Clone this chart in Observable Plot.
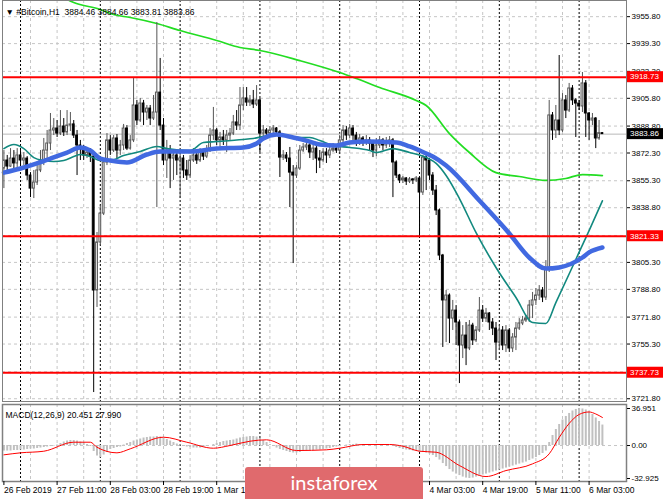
<!DOCTYPE html>
<html><head><meta charset="utf-8">
<script src="https://cdn.jsdelivr.net/npm/d3@7"></script>
<script src="https://cdn.jsdelivr.net/npm/@observablehq/plot@0.6"></script>
<style>
html,body{margin:0;padding:0;background:#fff;}
#wrap{position:relative;width:665px;height:499px;overflow:hidden;background:#fff;}
#wrap svg{display:block;}
#logo{position:absolute;left:245px;top:467px;width:178px;height:40px;background:#e06a6d;border-radius:3px;color:#fff;font-family:Lato,"Open Sans",sans-serif;font-size:20px;line-height:20px;text-align:center;padding-top:5px;box-sizing:border-box;}
</style></head>
<body><div id="wrap"></div>
<script>
const FONT = "'Liberation Sans', Arial, sans-serif";
const header = "▼ #Bitcoin,H1  3884.46 3884.66 3883.81 3883.86";
const macdHeader = "MACD(12,26,9) 20.451 27.990";

// hourly bars, bar 0 = 26 Feb 19:00 ... bar 180 = 6 Mar 07:00
const open0 = 3862.8;
const closeP = [
3867.7,3864.0,3868.9,3865.9,3870.8,3867.7,3868.9,3858.5,3850.5,3854.2,
3861.6,3867.7,3873.8,3878.1,3886.1,3887.3,3884.2,3888.5,3884.9,3889.1,
3889.8,3883.0,3876.9,3875.0,3870.8,3872.6,3870.1,3788.1,3817.5,3835.2,
3866.5,3880.0,3873.8,3881.2,3873.8,3876.9,3887.3,3875.0,3880.0,3901.4,
3892.2,3902.6,3897.1,3899.5,3893.4,3897.1,3909.3,3889.1,3867.7,3873.8,
3868.9,3870.8,3867.7,3868.9,3861.6,3858.5,3867.7,3870.8,3867.7,3872.6,
3870.1,3873.8,3883.0,3886.1,3880.0,3881.8,3880.0,3883.0,3884.2,3891.0,
3889.1,3901.4,3905.7,3903.2,3904.5,3902.0,3904.5,3884.2,3886.1,3884.2,
3886.1,3887.3,3884.9,3869.5,3870.8,3868.9,3860.3,3858.5,3862.8,3873.8,
3875.7,3876.9,3872.6,3875.0,3868.9,3867.7,3872.6,3870.8,3873.8,3875.0,
3873.8,3880.0,3886.1,3883.0,3887.3,3883.0,3878.7,3881.2,3878.7,3880.0,
3878.1,3873.8,3876.9,3880.0,3876.9,3878.7,3880.0,3866.5,3858.5,3855.5,
3856.7,3854.8,3856.1,3855.5,3856.7,3848.1,3869.5,3867.7,3858.5,3849.3,
3837.1,3809.5,3782.0,3785.0,3770.9,3775.8,3768.5,3754.4,3760.5,3752.6,
3766.6,3757.5,3763.6,3775.8,3770.9,3774.0,3768.5,3764.8,3756.2,3763.6,
3754.4,3763.6,3752.6,3759.3,3764.8,3767.9,3769.7,3770.9,3778.9,3782.0,
3785.0,3788.1,3783.8,3801.5,3895.3,3886.1,3892.2,3886.1,3904.5,3898.3,
3911.8,3904.5,3902.6,3900.8,3914.9,3896.5,3892.2,3893.4,3881.2,3884.46,3883.86];
const highP = [
3873.8,3870.8,3875.0,3873.8,3875.0,3873.8,3872.6,3870.1,3860.3,3861.6,
3864.6,3873.8,3881.2,3886.1,3896.5,3893.4,3892.2,3898.3,3893.4,3898.3,
3897.1,3892.2,3886.1,3880.0,3876.9,3875.7,3875.0,3871.5,3823.6,3840.1,
3868.9,3884.2,3883.0,3883.0,3883.6,3880.0,3889.8,3889.1,3883.0,3917.9,
3904.5,3905.7,3904.5,3901.4,3901.4,3907.5,3952.2,3930.2,3893.4,3880.0,
3876.9,3873.8,3872.6,3873.8,3870.8,3867.7,3870.8,3875.0,3873.8,3875.0,
3873.8,3876.9,3887.3,3900.2,3887.3,3884.9,3886.1,3886.1,3887.3,3895.3,
3898.3,3912.4,3912.4,3912.4,3907.5,3910.6,3913.6,3905.7,3889.1,3887.3,
3888.5,3889.1,3887.9,3886.1,3873.8,3872.6,3875.7,3864.6,3864.6,3876.9,
3878.1,3880.0,3878.1,3876.9,3876.3,3873.8,3875.0,3875.0,3876.9,3878.1,
3876.9,3883.0,3889.1,3888.5,3889.8,3889.1,3884.9,3883.6,3882.4,3883.0,
3881.8,3880.0,3881.2,3882.4,3881.2,3881.8,3882.4,3881.2,3867.5,3859.2,
3857.9,3857.3,3857.3,3856.7,3857.9,3857.5,3870.8,3870.8,3868.9,3860.3,
3852.4,3838.0,3810.2,3788.1,3786.0,3782.0,3778.9,3770.0,3766.6,3768.5,
3769.7,3768.0,3766.0,3783.8,3778.9,3777.1,3774.6,3770.9,3768.5,3766.6,
3766.0,3766.6,3764.8,3761.7,3768.5,3770.9,3772.2,3772.8,3782.0,3786.9,
3789.3,3791.1,3789.9,3806.4,3904.5,3897.1,3901.4,3932.0,3908.7,3907.5,
3914.9,3913.6,3905.7,3904.5,3921.6,3916.7,3897.1,3896.5,3894.0,3892.2,3884.66];
const lowP = [
3850.5,3860.3,3863.5,3861.6,3862.8,3864.6,3864.6,3855.5,3845.0,3844.4,
3852.4,3860.3,3864.6,3867.7,3873.8,3883.0,3881.8,3883.0,3882.4,3883.0,
3885.5,3881.2,3858.5,3867.7,3867.7,3868.9,3866.5,3725.6,3777.7,3815.6,
3834.0,3864.6,3870.8,3872.6,3868.9,3870.8,3873.8,3873.8,3874.0,3878.7,
3889.1,3891.0,3889.1,3892.2,3889.1,3892.2,3838.9,3886.1,3864.6,3856.7,
3850.5,3855.5,3858.5,3844.4,3856.7,3855.5,3856.7,3866.5,3865.3,3866.5,
3867.7,3868.9,3872.6,3880.0,3876.9,3873.8,3876.9,3872.6,3880.0,3883.0,
3886.1,3886.1,3898.3,3900.8,3900.8,3899.5,3900.8,3872.6,3880.0,3881.8,
3883.0,3883.6,3882.4,3857.3,3867.7,3866.5,3838.9,3804.6,3856.7,3861.6,
3872.6,3873.8,3868.9,3867.7,3859.7,3862.8,3866.5,3865.9,3868.9,3872.6,
3872.0,3872.6,3876.9,3880.0,3881.2,3880.0,3876.3,3876.9,3876.3,3876.9,
3873.8,3869.5,3870.1,3875.0,3873.8,3875.0,3875.7,3845.0,3856.7,3853.6,
3853.6,3852.4,3853.6,3853.0,3854.2,3820.5,3846.3,3849.3,3855.5,3846.3,
3834.0,3806.4,3753.2,3756.2,3755.6,3763.6,3754.4,3731.1,3746.4,3742.1,
3751.3,3754.4,3756.2,3762.4,3768.5,3768.5,3763.6,3760.5,3745.2,3751.3,
3751.3,3750.1,3750.1,3750.1,3751.3,3763.6,3766.6,3768.5,3768.5,3770.9,
3778.9,3782.0,3780.7,3782.0,3799.1,3880.0,3881.2,3883.0,3884.9,3893.4,
3897.1,3901.4,3881.8,3898.3,3897.1,3881.8,3880.0,3889.1,3875.0,3880.0,3883.81];

// moving averages (bar index, price)
const greenIdx = [17,21,29,33,38,46,53,64,71,77,89,101,106,113,124,127,134,140,148,155,163,169,174,180];
const greenVal = [3968.5,3964.5,3960.2,3957.1,3955.3,3951.6,3947.3,3941.2,3936.9,3935.1,3928.9,3921.6,3917.9,3912.4,3904.5,3901.4,3884.2,3872.6,3860.3,3857.9,3855.5,3856.7,3859.1,3858.5];
const tealIdx = [0,3,6,9,12,15,18,21,23,26,29,32,36,41,46,49,56,60,64,72,75,82,89,92,95,99,104,110,112,117,122,127,130,133,137,142,148,154,159,163,166,172,176,180];
const tealVal = [3875.0,3877.5,3875.0,3869.5,3867.7,3867.1,3867.7,3870.1,3871.4,3870.1,3867.7,3867.7,3870.8,3873.2,3876.3,3875.0,3873.8,3878.7,3879.3,3880.6,3881.2,3883.6,3881.8,3881.8,3880.0,3876.9,3875.7,3873.8,3872.6,3875.0,3872.6,3869.5,3865.9,3858.5,3844.4,3823.5,3802.2,3783.8,3768.5,3767.9,3780.7,3807.1,3824.8,3843.0];
const blueIdx = [0,5,9,14,19,23,26,29,32,37,43,47,56,64,72,76,78,82,87,92,95,100,104,109,118,122,127,129,133,143,152,158,163,167,174,176,180];
const blueVal = [3860.3,3862.8,3865.3,3868.9,3872.6,3875.7,3873.8,3868.9,3867.7,3866.5,3871.4,3873.2,3873.2,3875.0,3875.7,3878.1,3881.2,3883.6,3881.8,3879.3,3877.5,3876.9,3878.7,3879.3,3878.7,3876.3,3872.0,3870.1,3864.6,3843.2,3823.0,3808.3,3801.5,3802.2,3808.3,3811.4,3814.4];

const levels = [3918.73, 3821.33, 3737.73];
const bid = 3883.86;
const priceTicks = [3955.8,3939.3,3922.3,3905.8,3888.8,3872.3,3855.3,3838.8,3821.8,3805.3,3788.8,3771.8,3755.3,3738.3,3721.8];
const gridBars = [8,16,24,32,40,48,56,64,72,80,88,96,104,112,120,128,136,144,152,160,168,176];
const daySeps = [5,29,53,77,101,125,149,173];
const timeBars = [0,16,32,48,64,80,96,112,128,144,160,176];
const timeLabels = ["26 Feb 2019","27 Feb 11:00","28 Feb 03:00","28 Feb 19:00","1 Mar 11:00","2 Mar 03:00","2 Mar 19:00","3 Mar 11:00","4 Mar 03:00","4 Mar 19:00","5 Mar 11:00","6 Mar 03:00"];

// MACD(12,26,9) main values (histogram) per bar and signal line samples
const macdHist = [
-5.5,-5.5,-5.5,-5,-5,-4.5,
-4.5,-4,-3.5,-3.5,-3,
-2.5,-2,-1.5,-1,-0.5,
0.5,2,3.5,4.5,5,5,4.5,3.5,2.5,1,-1,
-6,-10.5,-12,-9.5,-7,-4,-3,-2,-1.5,
0.5,2,3,4.5,5.5,6.5,7.5,8,8.5,8.5,9,8.5,7.5,6,4.5,3,1.5,0.5,
-0.5,-1.5,-2,-2.5,-2.5,-2.5,-2,-1,0,1,
2,3,4,4.5,5,5.5,6.5,7.5,8,8.5,9,9,8.5,7,5,3,1,
-1,-2.5,-4,-5,-6,-7,-7.5,-7.5,-7,-6,-5.5,-5,-5,-4.5,-4.5,-4,-3.5,-3,-2,-1.5,-1,
0,0.5,1,1,1.5,1,1,0.5,0.5,0,0,0,0.5,0.5,0,-1,-2,-3,-4,-4.5,-5,-5.5,-6,-6.5,
-7,-7.5,-8.5,-10,-12,-14.5,-18,-21,-24,-26.5,-28.5,-30,-31.5,-32.5,-32.9,
-32.5,-31.5,-30.5,-29.5,-28.5,-27.5,-26.5,-25.5,-24.5,-23.5,-22.5,-21.5,-20.5,-19.5,-18.5,
-17.5,-16.5,-15,-13.5,-12,-10,-8,-5.5,3,10,16,21,25.5,29,32,34.5,36,36.95,36.5,35.5,
33.5,31,27.5,24,20.45];
const sigIdx = [0,5,12,21,26,28,34,38,48,55,63,68,74,79,88,97,101,108,116,120,125,130,137,145,151,159,164,167,170,173,176,178,180];
const sigVal = [-9.3,-7.3,-5.7,3.3,3.3,-1.7,-7.3,-3.3,8.3,3.3,-2.7,0,4.3,5.7,-5,-4.3,-2.7,1,1,-0.7,-5.7,-6.7,-20,-31,-25,-18.3,-8.3,8,22,31,33.5,31.5,27.99];
const macdTicks = [36.951, 0, -32.925];
const macdTickText = ["36.951", "0.00", "-32.925"];

// tables for the marks
const candles = closeP.map((c, i) => ({i, open: i ? closeP[i - 1] : open0, high: highP[i], low: lowP[i], close: c}));
const pts = (idx, val) => idx.map((i, k) => ({i, v: val[k]}));
const green = pts(greenIdx, greenVal), teal = pts(tealIdx, tealVal), blue = pts(blueIdx, blueVal);
const hist = macdHist.map((v, i) => ({i, v}));
const signal = pts(sigIdx, sigVal);
const bull = d => d.close >= d.open;

const xScale = {domain: [0, 180], range: [3.4, 601.9], axis: null};
const style = {fontFamily: FONT, fontSize: "8px", background: "#fff", color: "#000", overflow: "visible"};

const main = Plot.plot({
  width: 665, height: 402,
  marginLeft: 2, marginRight: 39, marginTop: 0, marginBottom: 1,
  style,
  x: xScale,
  y: {domain: [3719.5, 3965.7], range: [402, 0], axis: null},
  marks: [
    Plot.ruleY(priceTicks, {stroke: "#c6c6c6", strokeDasharray: "3,3"}),
    Plot.ruleX(gridBars, {stroke: "#c6c6c6", strokeDasharray: "3,3"}),
    Plot.ruleX(daySeps, {stroke: "#000", strokeDasharray: "2,2", strokeWidth: 1}),
    Plot.ruleY([bid], {stroke: "#b8b8b8"}),
    Plot.line(green, {x: "i", y: "v", stroke: "#22dd22", strokeWidth: 1.7, curve: "monotone-x", clip: true}),
    Plot.ruleX(candles, {x: "i", y1: "low", y2: "high", stroke: d => bull(d) ? "#555" : "#000", strokeWidth: 1}),
    Plot.rect(candles, {x1: d => d.i - 0.27, x2: d => d.i + 0.27, y1: "open", y2: "close",
      fill: d => bull(d) ? "#fff" : "#000", stroke: d => bull(d) ? "#555" : "#000", strokeWidth: 1}),
    Plot.line(teal, {x: "i", y: "v", stroke: "#12897f", strokeWidth: 1.6, curve: "monotone-x"}),
    Plot.line(blue, {x: "i", y: "v", stroke: "#4169e1", strokeWidth: 4.5, curve: "monotone-x", strokeLinecap: "round", strokeLinejoin: "round"}),
    Plot.ruleY(levels, {stroke: "#ff0000", strokeWidth: 2}),
    Plot.frame({stroke: "#808080"}),
    Plot.axisY(priceTicks, {anchor: "right", tickSize: 3, tickPadding: 2, tickFormat: d => d.toFixed(2), label: null}),
    Plot.text([header], {text: d => d, frameAnchor: "top-left", dx: 3, dy: 8, textAnchor: "start", fill: "#000", fontSize: 8.5})
  ]
});

// price tags on the right axis
const ys = main.scale("y");
const tagG = d3.select(main).append("g")
  .attr("font-family", FONT).attr("font-size", 8).attr("text-anchor", "start");
[...levels.map(v => ({v, fill: "#ff0000"})), {v: bid, fill: "#000"}].forEach(t => {
  const yy = ys.apply(t.v);
  tagG.append("rect").attr("x", 627).attr("y", yy - 5.5).attr("width", 36).attr("height", 11).attr("fill", t.fill);
  tagG.append("text").attr("x", 630).attr("y", yy).attr("dy", "0.35em").attr("text-anchor", "start")
    .attr("fill", "#fff").text(t.v.toFixed(2));
});

const macdChart = Plot.plot({
  width: 665, height: 97,
  marginLeft: 2, marginRight: 39, marginTop: 2, marginBottom: 18,
  style,
  x: xScale,
  y: {domain: [-32.925, 36.951], range: [76, 6], axis: null},
  marks: [
    Plot.ruleX(gridBars, {stroke: "#c6c6c6", strokeDasharray: "3,3"}),
    Plot.ruleX(daySeps, {stroke: "#000", strokeDasharray: "2,2", strokeWidth: 1}),
    Plot.ruleY([0], {stroke: "#c6c6c6", strokeDasharray: "3,3"}),
    Plot.ruleX(hist, {x: "i", y1: 0, y2: "v", stroke: "#c0c0c0", strokeWidth: 2}),
    Plot.line(signal, {x: "i", y: "v", stroke: "#ff0000", strokeWidth: 1, curve: "monotone-x"}),
    Plot.frame({stroke: "#808080", strokeWidth: 1.5}),
    Plot.axisY(macdTicks, {anchor: "right", tickSize: 3, tickPadding: 2, tickFormat: d => macdTickText[macdTicks.indexOf(d)], label: null}),
    Plot.axisX(timeBars, {anchor: "bottom", tickSize: 4, tickPadding: 1, textAnchor: "start", dx: 0, tickFormat: d => timeLabels[timeBars.indexOf(d)], label: null, fontSize: 8.5}),
    Plot.text([macdHeader], {text: d => d, frameAnchor: "top-left", dx: 3, dy: 7, textAnchor: "start", fill: "#000", fontSize: 8.5})
  ]
});

const wrap = document.getElementById("wrap");
wrap.appendChild(main);
wrap.appendChild(macdChart);
const logo = document.createElement("div");
logo.id = "logo";
logo.textContent = "instaforex";
wrap.appendChild(logo);
</script></body></html>
